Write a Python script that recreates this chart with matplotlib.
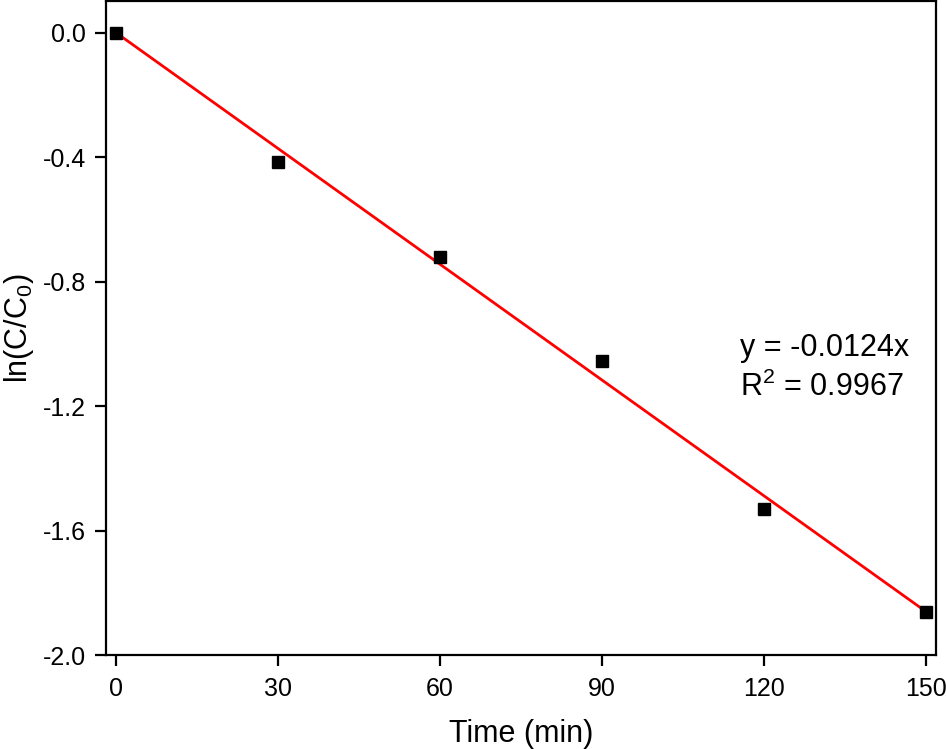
import matplotlib
matplotlib.use("Agg")
import matplotlib.pyplot as plt
import numpy as np

plt.rcParams['font.family'] = ['Liberation Sans', 'DejaVu Sans']
plt.rcParams['mathtext.fontset'] = 'custom'
plt.rcParams['mathtext.rm'] = 'Liberation Sans'

time_min = [0, 30, 60, 90, 120, 150]
ln_c = [0.0, -0.417, -0.722, -1.056, -1.531, -1.862]
slope = -0.0124
r2 = 0.9967
xticks = [0, 30, 60, 90, 120, 150]
yticks = [0.0, -0.4, -0.8, -1.2, -1.6, -2.0]

fig = plt.figure(figsize=(9.46, 7.49), dpi=100)
ax = fig.add_axes([0.1117, 0.1255, 0.8777, 0.8725])

fit_x = np.array([time_min[0], time_min[-1]])
ax.plot(fit_x, slope * fit_x, color='red', lw=2.0, zorder=2)
ax.plot(time_min, ln_c, 's', color='black', ms=8.5, zorder=3)

ax.set_xlim(-1.9, 151.9)
ax.set_ylim(-2.0, 0.1)
ax.set_xticks(xticks)
ax.set_yticks(yticks)
ax.set_yticklabels([f"{v:.1f}" for v in yticks])
ax.tick_params(direction='out', length=8, width=1.6, labelsize=18)
ax.tick_params(axis='y', pad=6)
ax.tick_params(axis='x', pad=8)
for s in ax.spines.values():
    s.set_linewidth(1.6)

ax.set_xlabel('Time (min)', fontsize=22, labelpad=13)
ax.set_ylabel('ln(C/C$_0$)', fontsize=22, labelpad=5)

ax.text(115.6, -1.014, f'y = {slope}x', fontsize=22, va='center', ha='left')
ax.text(115.6, -1.139, f'R$^2$ = {r2}', fontsize=22, va='center', ha='left')

fig.savefig('out.png', dpi=100)
